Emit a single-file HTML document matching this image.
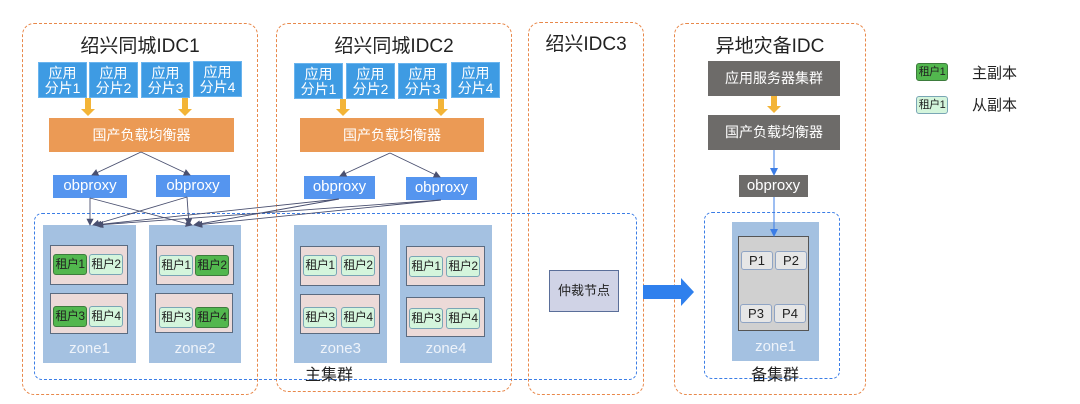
<!DOCTYPE html>
<html><head><meta charset="utf-8"><style>
*{margin:0;padding:0;box-sizing:border-box}
body{width:1080px;height:404px;background:#fff;position:relative;overflow:hidden;font-family:"Liberation Sans","Noto Sans CJK SC",sans-serif}
.a{position:absolute}
.idc{position:absolute;border:1.2px dashed #e8884a;border-radius:12px}
.t{position:absolute;font-size:19px;color:#222;text-align:center}
.sh{position:absolute;background:#3e9be3;color:#fff;font-size:14px;line-height:15px;text-align:center;padding-top:3px;border:1px solid #6ab4ee}
.lb{position:absolute;background:#eb9a55;color:#fff;font-size:14px;text-align:center;line-height:34px}
.ob{position:absolute;background:#5595ef;color:#fff;font-size:15px;text-align:center;line-height:22px}
.zone{position:absolute;background:#a4c1e1;color:#eef3fa;font-size:15px;text-align:center}
.zone span{position:absolute;left:0;right:0;bottom:6px}
.in{position:absolute;background:#ecdad8;border:1px solid #5b6b80}
.c{position:absolute;font-size:12px;text-align:center;line-height:19px;border:1px solid #7aa6b5;border-radius:3px;background:#d4f5dc;color:#222;width:34px;height:21px;letter-spacing:-0.5px;white-space:nowrap}
.g{background:#52b74e;border-color:#3d7c3d}
.gr{position:absolute;background:#6d6b69;color:#fff;font-size:14px;text-align:center;line-height:35px}
.ar{position:absolute;width:6px;background:#f3b437}
.ar:after{content:"";position:absolute;left:-4px;bottom:-6px;border-left:7px solid transparent;border-right:7px solid transparent;border-top:7px solid #f3b437}
.p{position:absolute;background:#e6e6e6;border:1px solid #8fa4c4;border-radius:3px;font-size:13px;text-align:center;line-height:17px;width:32px;height:19px;color:#222}
</style></head><body>
<div class="idc" style="left:22px;top:23px;width:236px;height:372px"></div>
<div class="idc" style="left:276px;top:23px;width:236px;height:369px"></div>
<div class="idc" style="left:528px;top:22px;width:116px;height:373px"></div>
<div class="idc" style="left:674px;top:23px;width:192px;height:372px"></div>

<div class="t" style="left:22px;top:31px;width:236px">绍兴同城IDC1</div>
<div class="t" style="left:276px;top:31px;width:236px">绍兴同城IDC2</div>
<div class="t" style="left:528px;top:29px;width:116px">绍兴IDC3</div>
<div class="t" style="left:674px;top:31px;width:192px">异地灾备IDC</div>

<div class="sh" style="left:38px;top:62px;width:49px;height:36px">应用<br>分片1</div>
<div class="sh" style="left:89px;top:62px;width:49px;height:36px">应用<br>分片2</div>
<div class="sh" style="left:141px;top:62px;width:49px;height:36px">应用<br>分片3</div>
<div class="sh" style="left:193px;top:61px;width:49px;height:36px">应用<br>分片4</div>
<div class="sh" style="left:294px;top:63px;width:49px;height:36px">应用<br>分片1</div>
<div class="sh" style="left:346px;top:63px;width:49px;height:36px">应用<br>分片2</div>
<div class="sh" style="left:398px;top:63px;width:49px;height:36px">应用<br>分片3</div>
<div class="sh" style="left:451px;top:62px;width:49px;height:36px">应用<br>分片4</div>

<div class="ar" style="left:85px;top:98px;height:12px"></div>
<div class="ar" style="left:182px;top:98px;height:12px"></div>
<div class="ar" style="left:340px;top:99px;height:11px"></div>
<div class="ar" style="left:438px;top:99px;height:11px"></div>

<div class="lb" style="left:49px;top:118px;width:185px;height:34px">国产负载均衡器</div>
<div class="lb" style="left:300px;top:118px;width:184px;height:34px">国产负载均衡器</div>

<div class="ob" style="left:53px;top:175px;width:74px;height:23px">obproxy</div>
<div class="ob" style="left:156px;top:175px;width:74px;height:22px">obproxy</div>
<div class="ob" style="left:304px;top:176px;width:71px;height:23px">obproxy</div>
<div class="ob" style="left:406px;top:177px;width:71px;height:23px">obproxy</div>

<div class="a" style="left:34px;top:213px;width:603px;height:167px;border:1.2px dashed #3b7de6;border-radius:8px"></div>

<div class="zone" style="left:43px;top:225px;width:93px;height:138px"><span>zone1</span></div>
<div class="zone" style="left:149px;top:225px;width:92px;height:138px"><span>zone2</span></div>
<div class="zone" style="left:294px;top:225px;width:93px;height:138px"><span>zone3</span></div>
<div class="zone" style="left:400px;top:225px;width:92px;height:138px"><span>zone4</span></div>

<div class="in" style="left:50px;top:245px;width:78px;height:40px"></div>
<div class="in" style="left:50px;top:293px;width:78px;height:41px"></div>
<div class="in" style="left:156px;top:245px;width:78px;height:40px"></div>
<div class="in" style="left:155px;top:293px;width:78px;height:40px"></div>
<div class="in" style="left:300px;top:246px;width:80px;height:40px"></div>
<div class="in" style="left:300px;top:294px;width:80px;height:40px"></div>
<div class="in" style="left:406px;top:246px;width:79px;height:40px"></div>
<div class="in" style="left:406px;top:297px;width:79px;height:40px"></div>

<div class="c g" style="left:53px;top:254px">租户1</div><div class="c" style="left:89px;top:254px">租户2</div>
<div class="c g" style="left:53px;top:306px">租户3</div><div class="c" style="left:89px;top:306px">租户4</div>
<div class="c" style="left:159px;top:255px">租户1</div><div class="c g g" style="left:195px;top:255px">租户2</div>
<div class="c" style="left:159px;top:307px">租户3</div><div class="c g" style="left:195px;top:307px">租户4</div>
<div class="c" style="left:303px;top:255px">租户1</div><div class="c" style="left:341px;top:255px">租户2</div>
<div class="c" style="left:303px;top:307px">租户3</div><div class="c" style="left:341px;top:307px">租户4</div>
<div class="c" style="left:409px;top:256px">租户1</div><div class="c" style="left:446px;top:256px">租户2</div>
<div class="c" style="left:409px;top:308px">租户3</div><div class="c" style="left:446px;top:308px">租户4</div>

<div class="a" style="left:305px;top:361px;font-size:16px;color:#222">主集群</div>

<div class="a" style="left:549px;top:270px;width:70px;height:42px;background:#d0d3e6;border:1.5px solid #5a6e99;font-size:13px;line-height:40px;text-align:center;color:#222">仲裁节点</div>

<div class="gr" style="left:708px;top:61px;width:132px;height:35px">应用服务器集群</div>
<div class="ar" style="left:771px;top:96px;height:11px"></div>
<div class="gr" style="left:708px;top:115px;width:132px;height:35px">国产负载均衡器</div>
<div class="gr" style="left:739px;top:175px;width:69px;height:22px;line-height:22px;font-size:15px">obproxy</div>
<div class="a" style="left:704px;top:212px;width:136px;height:167px;border:1.2px dashed #3b7de6;border-radius:8px"></div>
<div class="zone" style="left:732px;top:222px;width:87px;height:139px"><span>zone1</span></div>
<div class="a" style="left:738px;top:236px;width:71px;height:95px;background:#d0d0d0;border:1px solid #555"></div>
<div class="p" style="left:741px;top:251px">P1</div><div class="p" style="left:775px;top:251px">P2</div>
<div class="p" style="left:740px;top:304px">P3</div><div class="p" style="left:774px;top:304px">P4</div>
<div class="a" style="left:751px;top:361px;font-size:16px;color:#222">备集群</div>

<div class="c g" style="left:916px;top:63px;width:32px;height:18px;line-height:16px;font-size:11px">租户1</div>
<div class="a" style="left:972px;top:62px;font-size:15px;color:#222">主副本</div>
<div class="c" style="left:916px;top:96px;width:32px;height:18px;line-height:16px;font-size:11px">租户1</div>
<div class="a" style="left:972px;top:94px;font-size:15px;color:#222">从副本</div>

<svg class="a" style="left:0;top:0" width="1080" height="404">
<defs><marker id="m" markerWidth="8" markerHeight="8" refX="7" refY="4" orient="auto"><path d="M0,0 L8,4 L0,8 z" fill="#4a5070"/></marker>
<marker id="mb" markerWidth="8" markerHeight="8" refX="7" refY="4" orient="auto"><path d="M0,0 L8,4 L0,8 z" fill="#3b7de6"/></marker></defs>
<g stroke="#4a5070" stroke-width="0.9" fill="none" marker-end="url(#m)">
<line x1="141" y1="152" x2="92" y2="175"/><line x1="141" y1="152" x2="190" y2="175"/>
<line x1="390" y1="153" x2="340" y2="176"/><line x1="390" y1="153" x2="440" y2="177"/>
<line x1="90" y1="198" x2="90" y2="225"/><line x1="90" y1="198" x2="192" y2="225"/>
<line x1="187" y1="197" x2="93" y2="225"/><line x1="187" y1="197" x2="189" y2="225"/>
<line x1="339" y1="199" x2="95" y2="225"/><line x1="339" y1="199" x2="194" y2="225"/>
<line x1="441" y1="200" x2="97" y2="225"/><line x1="441" y1="200" x2="196" y2="225"/>
</g>
<g stroke="#3b7de6" stroke-width="1" marker-end="url(#mb)">
<line x1="774" y1="150" x2="774" y2="175"/><line x1="774" y1="197" x2="774" y2="236"/>
</g>
<path d="M643,285 L681,285 L681,278 L694,292 L681,306 L681,299 L643,299 z" fill="#2f80ed"/>
</svg>
</body></html>
